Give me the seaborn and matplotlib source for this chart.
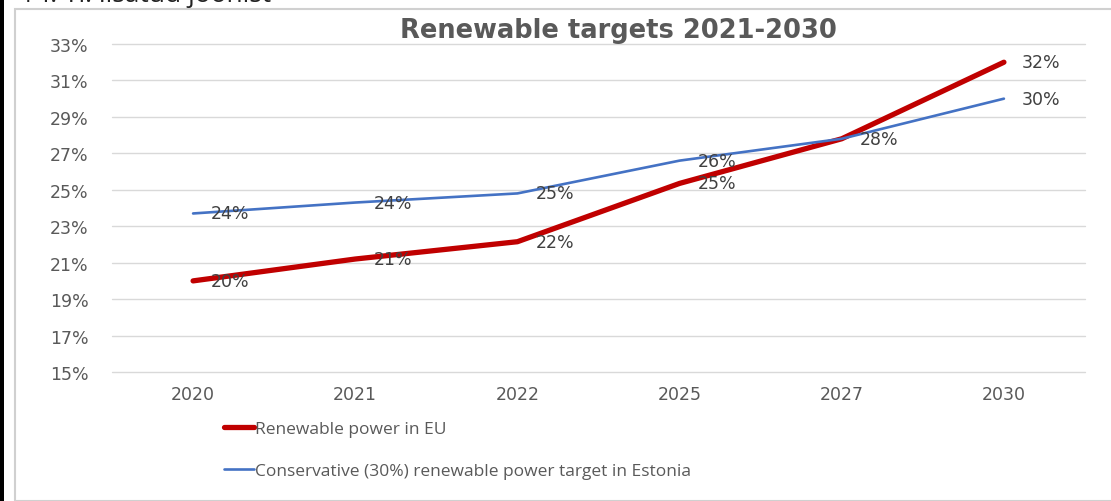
import numpy as np
import pandas as pd
import matplotlib
matplotlib.use("Agg")
import matplotlib.pyplot as plt
from matplotlib.patches import Rectangle
from matplotlib.lines import Line2D
import seaborn as sns

# ---- data ----
years = ["2020", "2021", "2022", "2025", "2027", "2030"]
eu_values = [20.0, 21.2, 22.15, 25.35, 27.8, 32.0]
eu_labels = ["20%", "21%", "22%", "25%", "28%", "32%"]
est_values = [23.7, 24.3, 24.8, 26.6, 27.8, 30.0]
est_labels = ["24%", "24%", "25%", "26%", "", "30%"]
series_names = ["Renewable power in EU",
                "Conservative (30%) renewable power target in Estonia"]
y_ticks = [15, 17, 19, 21, 23, 25, 27, 29, 31, 33]
title = "Renewable targets 2021-2030"
header_text = "14. Ti. lisatud joonist"

sns.set_theme(style="white")
plt.rcParams['font.family'] = ['DejaVu Sans']

W, H = 1111, 502
fig = plt.figure(figsize=(W / 100, H / 100), dpi=100)
fig.patch.set_facecolor("white")

# frame of the embedded chart and black left strip
fig.patches.append(Rectangle((15 / W, 0), 1.2, 1 - 10 / H, transform=fig.transFigure,
                             facecolor="none", edgecolor="#D0D0D0", linewidth=1.5))
fig.patches.append(Rectangle((0, 0), 4 / W, 1, transform=fig.transFigure,
                             facecolor="black", edgecolor="none"))
fig.text(20 / W, 1 + 4 / H, header_text, fontsize=19, family="Open Sans",
         color="#222222", ha="left", va="center")

ax = fig.add_axes([112 / W, 1 - 373 / H, (1085 - 112) / W, (373 - 45) / H])

pos = list(range(len(years)))
df = pd.DataFrame({
    "pos": pos * 2,
    "value": eu_values + est_values,
    "series": [series_names[0]] * len(years) + [series_names[1]] * len(years),
})
palette = {series_names[0]: "#C00000", series_names[1]: "#4472C4"}
sns.lineplot(data=df, x="pos", y="value", hue="series", palette=palette,
             size="series", sizes={series_names[0]: 3.8, series_names[1]: 1.9},
             sort=False, ax=ax, legend=False)
for ln in ax.lines:
    ln.set_solid_capstyle("round")

for xs, vs, ls in [(pos, eu_values, eu_labels), (pos, est_values, est_labels)]:
    for x, v, l in zip(xs, vs, ls):
        if l:
            ax.annotate(l, (x, v), xytext=(13, 0), textcoords="offset points",
                        ha="left", va="center", fontsize=12.5, color="#404040")

ax.set_xlim(-0.5, len(years) - 0.5)
ax.set_ylim(15, 33)
ax.set_yticks(y_ticks)
ax.set_yticklabels([f"{t}%" for t in y_ticks], color="#595959", fontsize=12.5)
ax.set_xticks(pos)
ax.set_xticklabels(years, color="#595959", fontsize=12.5)
ax.tick_params(axis="y", pad=17, length=0)
ax.tick_params(axis="x", pad=9, length=0)
ax.grid(axis="y", color="#D9D9D9", linewidth=1)
for gl in ax.get_ygridlines():
    gl.set_clip_on(False)
ax.set_axisbelow(True)
for s in ax.spines.values():
    s.set_visible(False)
ax.set_xlabel("")
ax.set_ylabel("")

fig.text(618 / W, 1 - 31 / H, title, fontsize=18.5, fontweight="bold",
         family="DejaVu Sans", color="#595959", ha="center", va="center")

# legend
handles = [Line2D([], [], color="#C00000", lw=3.8, solid_capstyle="round"),
           Line2D([], [], color="#4472C4", lw=1.9)]
leg = fig.legend(handles, series_names, loc="upper left",
                 bbox_to_anchor=(208 / W, 1 - 406 / H), frameon=False,
                 handlelength=1.75, handletextpad=0.05, labelspacing=1.5,
                 prop={"family": "Open Sans", "size": 12.5}, labelcolor="#595959")

fig.savefig("out.png", dpi=100, facecolor="white")
